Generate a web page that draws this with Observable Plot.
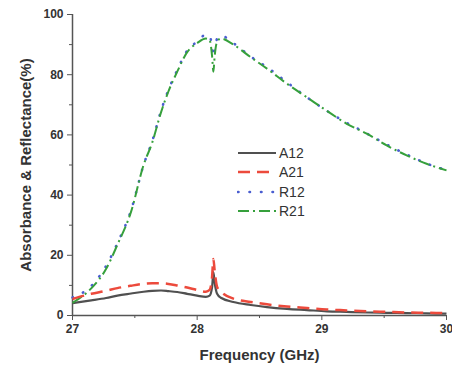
<!DOCTYPE html>
<html><head><meta charset="utf-8">
<script src="https://cdn.jsdelivr.net/npm/d3@7"></script>
<script src="https://cdn.jsdelivr.net/npm/@observablehq/plot@0.6"></script>
<style>
body{margin:0;background:#fff;}
#wrap{position:relative;width:452px;height:367px;font-family:"Liberation Sans",Arial,sans-serif;}
#legend{position:absolute;left:237px;top:143px;}
.row{display:flex;align-items:center;height:19.5px;font-size:14px;color:#333;}
.row svg{display:block;margin-right:2px;}
</style></head>
<body><div id="wrap"><div id="legend"></div></div>
<script>
const freq = [27.0, 27.15, 27.27, 27.36, 27.47, 27.57, 27.64, 27.71, 27.77, 27.84, 27.92, 28.0, 28.07, 28.1, 28.12, 28.13, 28.14, 28.16, 28.19, 28.29, 28.43, 28.56, 28.72, 28.88, 29.04, 29.2, 29.36, 29.52, 29.68, 29.84, 30.0];
const A12 = [4.1, 5.0, 5.8, 6.6, 7.3, 7.9, 8.2, 8.3, 8.1, 7.8, 7.2, 6.6, 6.2, 6.6, 9.5, 14.4, 11.0, 7.2, 5.9, 4.5, 3.5, 2.8, 2.2, 1.8, 1.4, 1.2, 1.0, 0.9, 0.8, 0.7, 0.6];
const A21 = [5.5, 7.2, 8.2, 9.1, 9.9, 10.5, 10.7, 10.7, 10.5, 10.0, 9.3, 8.5, 7.9, 8.5, 13.0, 18.8, 15.0, 9.5, 8.0, 5.6, 4.5, 3.7, 3.0, 2.5, 2.0, 1.7, 1.4, 1.2, 1.0, 0.9, 0.8];
const R12 = [6.0, 9.8, 16.5, 24.0, 35.0, 50.0, 58.0, 68.0, 75.0, 81.5, 88.0, 91.0, 93.3, 93.0, 89.0, 86.0, 88.0, 92.0, 93.0, 90.5, 86.0, 82.5, 77.5, 72.5, 68.0, 64.0, 60.5, 56.8, 53.5, 50.5, 48.3];
const R21 = [4.2, 9.0, 15.5, 23.5, 34.5, 50.0, 57.5, 67.5, 74.5, 81.0, 87.5, 90.5, 92.0, 91.5, 86.0, 81.0, 86.0, 91.0, 92.0, 90.0, 85.8, 82.0, 77.0, 72.5, 68.0, 63.7, 60.4, 56.5, 53.2, 50.4, 48.2];
const seriesNames = ["A12", "A21", "R12", "R21"];
const xTicks = [27, 28, 29, 30];
const xMinor = [27.5, 28.5, 29.5];
const yTicks = [0, 20, 40, 60, 80, 100];
const yMinor = [10, 30, 50, 70, 90];

const styles = {
  A12: {stroke: "#505050", strokeWidth: 2.2, dash: null},
  A21: {stroke: "#ec4a3c", strokeWidth: 2.5, dash: "12,7"},
  R12: {stroke: "#4a5ed0", strokeWidth: 2.6, dash: "0.5,11"},
  R21: {stroke: "#36a03c", strokeWidth: 2, dash: "11,4,2,4"}
};
const values = {A12, A21, R12, R21};
const table = seriesNames.map(s => freq.map((f, i) => ({f, v: values[s][i], s})));
const drawOrder = ["A12", "R12", "R21", "A21"];

const marks = [
  Plot.ruleX([27], {stroke: "#555", strokeWidth: 1.5}),
  Plot.ruleY([0], {stroke: "#555", strokeWidth: 1.5}),
  Plot.axisX({ticks: xTicks, tickSize: 5, tickFormat: d => d, label: "Frequency (GHz)", labelAnchor: "center", labelArrow: false, labelOffset: 44, fontSize: 12, stroke: "#555"}),
  Plot.axisX({ticks: xMinor, tickSize: 3, tickFormat: () => "", label: null, stroke: "#555"}),
  Plot.axisY({ticks: yTicks, tickSize: 5, label: "Absorbance & Reflectance(%)", labelAnchor: "center", labelArrow: false, labelOffset: 52, fontSize: 12, stroke: "#555"}),
  Plot.axisY({ticks: yMinor, tickSize: 3, tickFormat: () => "", label: null, stroke: "#555"}),
  ...drawOrder.map(s => Plot.line(table[seriesNames.indexOf(s)], {
    x: "f", y: "v", curve: "monotone-x",
    stroke: styles[s].stroke, strokeWidth: styles[s].strokeWidth,
    strokeDasharray: styles[s].dash, strokeLinecap: s === "R12" ? "round" : "butt"
  }))
];

const chart = Plot.plot({
  width: 452, height: 367,
  marginLeft: 72, marginRight: 6, marginTop: 14, marginBottom: 52,
  x: {domain: [27, 30]},
  y: {domain: [0, 100]},
  style: {fontFamily: "'Liberation Sans', Arial, sans-serif", fontWeight: "bold", fontSize: "14px", color: "#333", background: "white"},
  marks
});
const wrap = document.getElementById("wrap");
wrap.insertBefore(chart, wrap.firstChild);
chart.querySelectorAll("[aria-label$='axis label']").forEach(e => e.setAttribute("font-size", "15"));
chart.querySelectorAll("[aria-label$='axis label'] text").forEach(e => e.setAttribute("font-size", "15"));

const legend = document.getElementById("legend");
seriesNames.forEach(s => {
  const row = document.createElement("div");
  row.className = "row";
  const st = styles[s];
  row.innerHTML = `<svg width="40" height="10"><line x1="1" x2="39" y1="5" y2="5" stroke="${st.stroke}" stroke-width="${st.strokeWidth}" ${st.dash ? `stroke-dasharray="${st.dash}"` : ""} ${s==="R12"?'stroke-linecap="round"':""}/></svg><span>${s}</span>`;
  legend.appendChild(row);
});
</script></body></html>
